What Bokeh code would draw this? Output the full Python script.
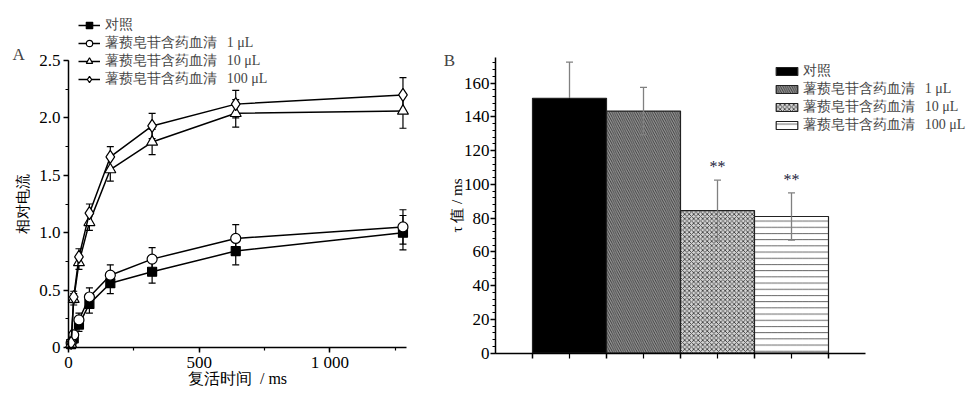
from bokeh.plotting import figure
from bokeh.layouts import row
from bokeh.models import (ColumnDataSource, Whisker, TeeHead, Legend, LegendItem, Label,
                          SingleIntervalTicker, FixedTicker, Range1d)
from bokeh.core.properties import value
from bokeh.embed import file_html
from bokeh.resources import INLINE

SERIF = "Liberation Serif"

# ---------------- Panel A data ----------------
t_ms = [10, 20, 40, 80, 160, 320, 640, 1280]
ctrl = [0.03, 0.08, 0.20, 0.38, 0.56, 0.66, 0.84, 1.00]
ctrl_err = [0.02, 0.04, 0.06, 0.08, 0.09, 0.10, 0.12, 0.15]
dio1 = [0.04, 0.11, 0.24, 0.44, 0.63, 0.77, 0.95, 1.05]
dio1_err = [0.02, 0.04, 0.06, 0.08, 0.09, 0.10, 0.12, 0.15]
dio10 = [0.03, 0.42, 0.74, 1.09, 1.55, 1.79, 2.04, 2.06]
dio10_err = [0.02, 0.05, 0.06, 0.07, 0.10, 0.11, 0.12, 0.15]
dio100 = [0.04, 0.44, 0.79, 1.17, 1.66, 1.93, 2.12, 2.20]
dio100_err = [0.02, 0.05, 0.07, 0.08, 0.09, 0.11, 0.12, 0.15]

labels = ["对照",
          "薯蓣皂苷含药血清\u2002\u20091 μL",
          "薯蓣皂苷含药血清\u2002\u200910 μL",
          "薯蓣皂苷含药血清\u2002\u2009100 μL"]

# ---------------- Panel B data ----------------
tau = [151.0, 143.5, 84.5, 81.0]
tau_err = [21.5, 14.0, 18.0, 14.0]
significant = ["", "", "**", "**"]


def style_axis(ax):
    ax.axis_line_width = 1.5
    ax.major_tick_line_width = 1.5
    ax.minor_tick_line_width = 1.2
    ax.major_tick_in = 0
    ax.major_tick_out = 5
    ax.minor_tick_in = 0
    ax.minor_tick_out = 3
    ax.major_label_text_font = SERIF
    ax.major_label_text_font_size = "17px"
    ax.major_label_text_color = "black"
    ax.axis_label_text_font = SERIF
    ax.axis_label_text_font_style = "normal"
    ax.axis_label_text_color = "black"


TOP, BOTTOM = 2, 393          # page rows covered by each frame

# ================= Panel A =================
A_PX_X = 0.2613   # px per ms
A_PX_Y = 114.8    # px per unit
A_X0PX, A_Y0PX = 68, 347      # page position of the origin
A_FW = 426
A_FH = BOTTOM - TOP
a_x0 = -(A_X0PX - 2) / A_PX_X
a_y0 = -(BOTTOM - A_Y0PX) / A_PX_Y
pa = figure(frame_width=A_FW, frame_height=A_FH,
            min_border_left=2, min_border_right=2, min_border_top=TOP, min_border_bottom=2,
            x_range=Range1d(a_x0, a_x0 + A_FW / A_PX_X),
            y_range=Range1d(a_y0, a_y0 + A_FH / A_PX_Y),
            output_backend="svg", toolbar_location=None)
pa.outline_line_color = None
pa.grid.visible = False

series = [(ctrl, ctrl_err, "square", "black", 9),
          (dio1, dio1_err, "circle", "white", 10),
          (dio10, dio10_err, "triangle", "white", 11),
          (dio100, dio100_err, "diamond", "white", 13)]

items = []
for (vals, errs, marker, fill, size), lab in zip(series, labels):
    src = ColumnDataSource(dict(x=t_ms, y=vals,
                                lo=[v - e for v, e in zip(vals, errs)],
                                hi=[v + e for v, e in zip(vals, errs)]))
    w = Whisker(source=src, base="x", lower="lo", upper="hi", dimension="height",
                line_color="black", line_width=1.2, level="underlay",
                upper_head=TeeHead(size=7, line_color="black", line_width=1.2),
                lower_head=TeeHead(size=7, line_color="black", line_width=1.2))
    pa.add_layout(w)
    ln = pa.line("x", "y", source=src, line_color="black", line_width=1.5)
    mk = pa.scatter("x", "y", source=src, marker=marker, size=size,
                    fill_color=fill, line_color="black", line_width=1.2)
    items.append(LegendItem(label=lab, renderers=[ln, mk]))

leg_a = Legend(items=items, location=(76, BOTTOM - 88), glyph_width=22, glyph_height=16,
               label_height=16, spacing=0, padding=0, margin=0, label_standoff=5,
               border_line_color=None, background_fill_alpha=0,
               label_text_font=SERIF, label_text_font_size="14px")
pa.add_layout(leg_a)

pa.xaxis.ticker = SingleIntervalTicker(interval=500, num_minor_ticks=2)
pa.yaxis.ticker = SingleIntervalTicker(interval=0.5, num_minor_ticks=2)
pa.xaxis.bounds = (0, 1292)
pa.yaxis.bounds = (0, 2.5)
pa.yaxis.fixed_location = 0
pa.xaxis.fixed_location = 0
pa.xaxis.major_label_overrides = {0: "0", 500: "500", 1000: "1 000"}
pa.yaxis.major_label_overrides = {0: "0", 0.5: "0.5", 1: "1.0", 1.5: "1.5", 2: "2.0", 2.5: "2.5"}
pa.xaxis.axis_label = "复活时间\u2002/ ms"
pa.yaxis.axis_label = "相对电流"
style_axis(pa.xaxis[0])
style_axis(pa.yaxis[0])
pa.xaxis.major_label_standoff = 0
pa.yaxis.major_label_standoff = 3
pa.xaxis.axis_label_text_font_size = "16px"
pa.yaxis.axis_label_text_font_size = "15px"
pa.xaxis.axis_label_standoff = -5
pa.yaxis.axis_label_standoff = 5

pa.add_layout(Label(x=-214, y=2.552, text="A", text_font=SERIF, text_font_size="17px",
                    text_baseline="middle", text_align="left"))

# ================= Panel B =================
B_PX_X = 74.0     # px per bar unit
B_PX_Y = 1.6876   # px per ms
B_LEFT = 432
B_X0PX, B_Y0PX = 495, 352.7
B_FW = 542
B_FH = BOTTOM - TOP
b_x0 = -(B_X0PX - B_LEFT) / B_PX_X
b_y0 = -(BOTTOM - B_Y0PX) / B_PX_Y
pb = figure(frame_width=B_FW, frame_height=B_FH,
            min_border_left=2, min_border_right=2, min_border_top=TOP, min_border_bottom=2,
            x_range=Range1d(b_x0, b_x0 + B_FW / B_PX_X),
            y_range=Range1d(b_y0, b_y0 + B_FH / B_PX_Y),
            output_backend="svg", toolbar_location=None)
pb.outline_line_color = None
pb.grid.visible = False

bar_x = [i + 1 for i in range(len(tau))]
fills = ["black", "#9a9a9a", "#d4d4d4", "white"]
hatches = [" ", "\\", "x", "-"]
hscales = [6, 4.5, 4.5, 6.2]
hcolors = ["black", "#303030", "#404040", "#555555"]
err_low_colors = ["black", "#808080", "#808080", "#808080"]
bsrc = ColumnDataSource(dict(x=bar_x, top=tau, fill=fills, hatch=hatches, hs=hscales, hc=hcolors,
                             elc=err_low_colors,
                             lo=[v - e for v, e in zip(tau, tau_err)],
                             hi=[v + e for v, e in zip(tau, tau_err)]))
bars = pb.vbar(x="x", top="top", width=1.0, source=bsrc, fill_color="fill",
               line_color="#222222", line_width=1.2, hatch_pattern="hatch",
               hatch_scale="hs", hatch_color="hc", hatch_weight=0.9)

wb_up = Whisker(source=bsrc, base="x", lower="top", upper="hi", dimension="height",
                line_color="#808080", line_width=1.3, level="overlay",
                upper_head=TeeHead(size=7, line_color="#808080", line_width=1.3),
                lower_head=None)
wb_lo = Whisker(source=bsrc, base="x", lower="lo", upper="top", dimension="height",
                line_color="elc", line_width=1.3, level="overlay",
                lower_head=TeeHead(size=7, line_color="elc", line_width=1.3),
                upper_head=None)
pb.add_layout(wb_up)
pb.add_layout(wb_lo)

sig_x = [x for x, s in zip(bar_x, significant) if s]
sig_y = [v + e + 8 for v, e, s in zip(tau, tau_err, significant) if s]
sig_t = [s for s in significant if s]
pb.text(x=sig_x, y=sig_y, text=sig_t, text_align="center", text_baseline="middle",
        text_font=value(SERIF), text_font_size="16px", text_color="#1c1c3a")

leg_b = Legend(items=[LegendItem(label=lab, renderers=[bars], index=i) for i, lab in enumerate(labels)],
               location=(341, BOTTOM - 134), glyph_width=27, glyph_height=10,
               label_height=14, spacing=0, padding=0, margin=0, label_standoff=3,
               border_line_color=None, background_fill_alpha=0,
               label_text_font=SERIF, label_text_font_size="14px")
pb.add_layout(leg_b)

pb.yaxis.ticker = SingleIntervalTicker(interval=20, num_minor_ticks=5)
pb.xaxis.ticker = FixedTicker(ticks=[0.5, 1.5, 2.5, 3.5, 4.5], minor_ticks=[1, 2, 3, 4])
pb.xaxis.bounds = (0, 5)
pb.yaxis.bounds = (0, 175.4)
pb.yaxis.fixed_location = 0
pb.xaxis.fixed_location = 0
pb.yaxis.axis_label = "τ 值 / ms"
style_axis(pb.xaxis[0])
style_axis(pb.yaxis[0])
pb.xaxis.major_label_text_alpha = 0
pb.xaxis.major_label_text_font_size = "1px"
pb.xaxis.minor_tick_out = 5
pb.yaxis.major_label_standoff = 1
pb.yaxis.axis_label_text_font_size = "15px"
pb.yaxis.axis_label_standoff = -4

pb.add_layout(Label(x=-0.70, y=173.5, text="B", text_font=SERIF, text_font_size="17px",
                    text_baseline="middle", text_align="left"))

layout = row(pa, pb)
open("out.html", "w").write(file_html(layout, INLINE))
